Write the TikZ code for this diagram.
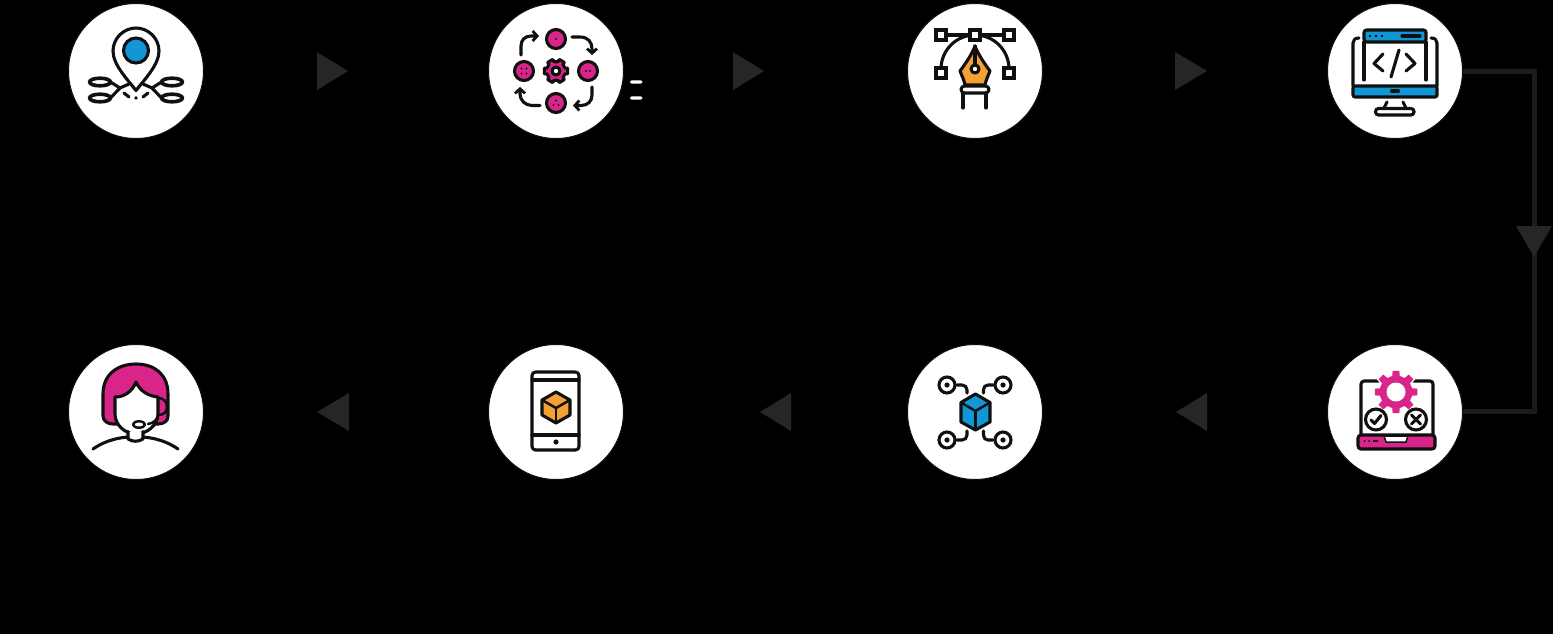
\documentclass[tikz,border=0pt]{standalone}
\usetikzlibrary{arrows.meta}
\definecolor{ink}{HTML}{101010}
\definecolor{pinkc}{HTML}{D9248A}
\definecolor{bluec}{HTML}{1297D6}
\definecolor{orangec}{HTML}{F5A033}
\definecolor{tri}{HTML}{262626}
\definecolor{wire}{HTML}{1C1A1A}
\tikzset{
  disc/.style={circle,fill=white,draw=ink,line width=1pt,minimum size=135pt,inner sep=0pt,outer sep=0pt},
  ico/.style={draw=ink,line width=3.1pt,line cap=round,line join=round},
  chev/.style={ico,-{Straight Barb[length=4.5pt,width=10pt,line width=2.8pt]}},
  triangle/.style={fill=tri,draw=none},
  wireline/.style={draw=wire,line width=5pt,line join=miter},
  dashmark/.style={fill=white,rounded corners=1.5pt,draw=none}
}
\newcommand{\gearshape}[5]{% options, teeth, outer, inner, half-angle
  \path[#1] (-#5:#3)
    \foreach \k in {0,...,\numexpr#2-1\relax}{
      -- ({\k*360/#2-#5}:#3) -- ({\k*360/#2+#5}:#3)
      -- ({\k*360/#2+#5+4}:#4) -- ({(\k+1)*360/#2-#5-4}:#4)
    } -- cycle;
}
\begin{document}
\begin{tikzpicture}[x=1pt,y=-1pt]
\useasboundingbox (0,0) rectangle (1553,634);
\fill[black] (0,0) rectangle (1553,634);
% connector at right
\coordinate (bendA) at (1534.5,71.5);
\coordinate (bendB) at (1534.5,411.5);
\node[disc] (c1) at (136,71) {};
\node[disc] (c2) at (556,71) {};
\node[disc] (c3) at (975,71) {};
\node[disc] (c4) at (1395,71) {};
\node[disc] (c5) at (136,412) {};
\node[disc] (c6) at (556,412) {};
\node[disc] (c7) at (975,412) {};
\node[disc] (c8) at (1395,412) {};
\draw[wireline] (c4.east |- bendA) -- (bendA) -- (bendB) -- (c8.east |- bendB);
% triangles
\fill[triangle] (317,52) -- (348,71) -- (317,90) -- cycle;
\fill[triangle] (733,52) -- (764,71) -- (733,90) -- cycle;
\fill[triangle] (1175,52) -- (1207,71) -- (1175,90) -- cycle;
\fill[triangle] (349,393) -- (317,412) -- (349,431) -- cycle;
\fill[triangle] (791,393) -- (760,412) -- (791,431) -- cycle;
\fill[triangle] (1207,393) -- (1176,412) -- (1207,431) -- cycle;
\fill[triangle] (1516,226) -- (1552,226) -- (1534,257) -- cycle;
% white marks
\fill[dashmark] (630,80.3) rectangle (642.5,83.7);
\fill[dashmark] (630,96.3) rectangle (642.5,99.7);

% ---- icon 1: location pin
\begin{scope}[shift={(c1.center)}]
  \foreach \s in {-1,1}{
    \foreach \yy in {11,27}{
      \draw[ico,line width=3.6pt] (\s*36,\yy) ellipse[x radius=10.5,y radius=3.8];
    }
    \draw[ico] (\s*25.5,11) -- (\s*16,17) -- (\s*25.5,27);
    \draw[ico] (\s*16,17) -- (\s*7,13);
    \draw[ico] (\s*12,22) -- (\s*7,26);
  }
  \draw[ico,fill=white] (0,19.5) .. controls (-8,9) and (-23,-6) .. (-23,-20)
     .. controls (-23,-33) and (-12,-43) .. (0,-43)
     .. controls (12,-43) and (23,-33) .. (23,-20)
     .. controls (23,-6) and (8,9) .. (0,19.5) -- cycle;
  \draw[ico,fill=bluec] (0,-20.5) circle[radius=12.5];
  \fill[ink] (0,27) circle[radius=1.8];
\end{scope}

% ---- icon 2: cycle of buttons
\begin{scope}[shift={(c2.center)}]
  \foreach \px/\py in {0/-32,32/0,0/32,-32/0}{
    \draw[ico,fill=pinkc] (\px,\py) circle[radius=9.5];
  }
  \fill[ink] (0,-32) circle[radius=1.2];
  \fill[ink] (30,0) circle[radius=1.2] (34,0) circle[radius=1.2];
  \fill[ink] (0,29.5) circle[radius=1.2] (-2.5,34) circle[radius=1.2] (2.5,34) circle[radius=1.2];
  \foreach \dx in {-34.5,-29.5}{\foreach \dy in {-2.5,2.5}{\fill[ink] (\dx,\dy) circle[radius=1.2];}}
  \gearshape{ico,fill=pinkc}{6}{12}{9.5}{14}
  \draw[ico,fill=white] (0,0) circle[radius=4];
  \draw[chev] (16,-34) -- (24,-34) .. controls (32,-34) and (36,-29) .. (36,-22) -- (36,-16);
  \draw[chev] (36,16) -- (36,24) .. controls (36,30) and (32,34.5) .. (25,34.5) -- (17,34.5);
  \draw[chev] (-16,34.5) -- (-24,34.5) .. controls (-31,34.5) and (-36,29) .. (-36,23) -- (-36,16);
  \draw[chev] (-35,-16) -- (-35,-25) .. controls (-35,-31) and (-31,-35) .. (-25,-35) -- (-17,-35);
\end{scope}

% ---- icon 3: pen tool
\begin{scope}[shift={(c3.center)}]
  \draw[ico] (-34,-36) -- (34,-36);
  \draw[ico] (-34,-2) .. controls (-34,-20.8) and (-18.8,-36) .. (0,-36)
     .. controls (18.8,-36) and (34,-20.8) .. (34,-2);
  \foreach \px/\py in {-34/-36,0/-36,34/-36,-34/2,34/2}{
    \draw[ico,fill=white,line join=miter] (\px-5,\py-5) rectangle (\px+5,\py+5);
  }
  \draw[ico,fill=orangec] (0,-25) .. controls (-3,-17) and (-9,-8) .. (-15,0) .. controls (-13,5) and (-11,9) .. (-10,14) -- (10,14) .. controls (11,9) and (13,5) .. (15,0) .. controls (9,-8) and (3,-17) .. (0,-25) -- cycle;
  \draw[ico] (0,-25) -- (0,-6);
  \draw[ico,fill=white] (0,-2) circle[radius=4];
  \draw[ico,fill=white,rounded corners=3.5pt] (-14,15) rectangle (14,22);
  \draw[ico] (-12,22) -- (-12,37);
  \draw[ico] (11,22) -- (11,37);
\end{scope}

% ---- icon 4: monitor with code
\begin{scope}[shift={(c4.center)}]
  \draw[ico] (-36,-33) .. controls (-40,-33) and (-42,-31) .. (-42,-28) -- (-42,15);
  \draw[ico] (36,-33) .. controls (40,-33) and (42,-31) .. (42,-28) -- (42,15);
  \draw[ico,fill=bluec,rounded corners=2pt] (-42,15) rectangle (42,26);
  \draw[ico] (-31,9) -- (-31,-29);
  \draw[ico] (31,9) -- (31,-29);
  \draw[ico,fill=bluec,rounded corners=2.5pt] (-31,-29) -- (-31,-41) -- (31,-41) -- (31,-29) -- cycle;
  \fill[ink] (-25,-35) circle[radius=1.3] (-19,-35) circle[radius=1.3] (-13,-35) circle[radius=1.3];
  \draw[ico] (7,-35) -- (25,-35);
  \draw[ico] (-12,-17) -- (-21,-7.5) -- (-12,0);
  \draw[ico] (11,-17) -- (20,-7.5) -- (11,0);
  \draw[ico] (4,-21) -- (-4,6);
  \draw[ico] (-3.5,20) -- (3.5,20);
  \draw[ico] (-8,31) -- (-11,37);
  \draw[ico] (8,31) -- (11,37);
  \draw[ico,fill=white,rounded corners=3pt] (-19.5,37.5) rectangle (19,44);
\end{scope}

% ---- icon 5: support agent
\begin{scope}[shift={(c5.center)}]
  \draw[ico,fill=pinkc] (-23,12) .. controls (-28,12) and (-33,9) .. (-33,4)
     -- (-33,-18) .. controls (-33,-38) and (-18,-48) .. (0,-48)
     .. controls (18,-48) and (32,-38) .. (32,-18)
     -- (32,4) .. controls (32,9) and (28,12) .. (22,12) -- cycle;
  \draw[ico,fill=white] (-21,-15) .. controls (-12,-15) and (-4,-20) .. (0,-30)
     .. controls (4,-21) and (12,-16) .. (22,-15)
     -- (22,2) .. controls (22,13) and (11,22) .. (0,22)
     .. controls (-11,22) and (-21,13) .. (-21,2) -- cycle;
  \draw[ico,line width=2.5pt] (22,-14) .. controls (28,-14) and (31,-10) .. (31,-5)
     .. controls (31,0) and (28,3) .. (22,3);
  \draw[ico,line width=2.5pt] (22,3) .. controls (21,8) and (18,11) .. (12,12);
  \draw[ico,fill=white,line width=2.5pt] (3,12.5) ellipse[x radius=6,y radius=3.2];
  \draw[ico,fill=white] (-8,19.5) -- (-8,27) .. controls (-3,30) and (2,30) .. (7,27) -- (7,19.5);
  \draw[ico] (-43,37) .. controls (-33,30) and (-21,26) .. (-8,25);
  \draw[ico] (42,37) .. controls (32,30) and (20,26) .. (7,25);
\end{scope}

% ---- icon 6: phone with cube
\begin{scope}[shift={(c6.center)}]
  \draw[ico,rounded corners=3.5pt] (-24,-40) rectangle (23,38);
  \draw[ico] (-24,-32) -- (23,-32);
  \draw[ico] (-24,23) -- (23,23);
  \fill[ink] (0,30) circle[radius=2.6];
  \draw[ico,fill=orangec] (0,-20) -- (14,-12) -- (14,3) -- (0,11) -- (-14,3) -- (-14,-12) -- cycle;
  \draw[ico,line width=2.5pt] (-14,-12) -- (0,-4) -- (14,-12);
  \draw[ico,line width=2.5pt] (0,-4) -- (0,11);
\end{scope}

% ---- icon 7: cube network
\begin{scope}[shift={(c7.center)}]
  \draw[ico,fill=bluec] (0.5,-18) -- (15,-9.5) -- (15,10) -- (0.5,18) -- (-14,10) -- (-14,-9.5) -- cycle;
  \draw[ico,line width=2.5pt] (-14,-9.5) -- (0.5,-1) -- (15,-9.5);
  \draw[ico,line width=2.5pt] (0.5,-1) -- (0.5,18);
  \foreach \px/\py in {-28/-27,28/-27,-28/28,28/28}{
    \draw[ico] (\px,\py) circle[radius=8];
    \fill[ink] (\px,\py) circle[radius=2.6];
  }
  \draw[ico] (-18,-27) -- (-13,-27) .. controls (-10,-27) and (-8,-25) .. (-8,-22) -- (-8,-19);
  \draw[ico] (18,-27) -- (13,-27) .. controls (10,-27) and (8.5,-25) .. (8.5,-22) -- (8.5,-19);
  \draw[ico] (-18,28) -- (-13,28) .. controls (-10,28) and (-8,26) .. (-8,23) -- (-8,19);
  \draw[ico] (18,28) -- (13,28) .. controls (10,28) and (8.5,26) .. (8.5,23) -- (8.5,19);
\end{scope}

% ---- icon 8: laptop testing
\begin{scope}[shift={(c8.center)}]
  \draw[ico,rounded corners=3pt] (-34,23) -- (-34,-31) -- (38,-31) -- (38,23);
  \draw[ico,fill=pinkc,rounded corners=3pt] (-37,23) -- (40,23) -- (40,37) -- (-37,37) -- cycle;
  \draw[ico,fill=white,line width=1.5pt] (-11,24) -- (13,24) -- (11,30) -- (-9,30) -- cycle;
  \fill[ink] (-30.5,29) circle[radius=1] (-26,29) circle[radius=1];
  \draw[ink,line width=2pt] (-22.5,29) -- (-17,29);
  \begin{scope}[shift={(1,-20)}]
    \gearshape{fill=white}{8}{23.5}{19}{11}
    \gearshape{fill=pinkc}{8}{21.5}{16.5}{9}
    \fill[white] (0,0) circle[radius=9.5];
  \end{scope}
  \draw[ico,fill=white] (-19,7.5) circle[radius=10.5];
  \draw[ico,fill=white] (21,7.5) circle[radius=10.5];
  \draw[ico] (-24,8) -- (-20.5,11.5) -- (-14,3.5);
  \draw[ico] (16.5,3) -- (25.5,12);
  \draw[ico] (25.5,3) -- (16.5,12);
\end{scope}
\end{tikzpicture}
\end{document}
